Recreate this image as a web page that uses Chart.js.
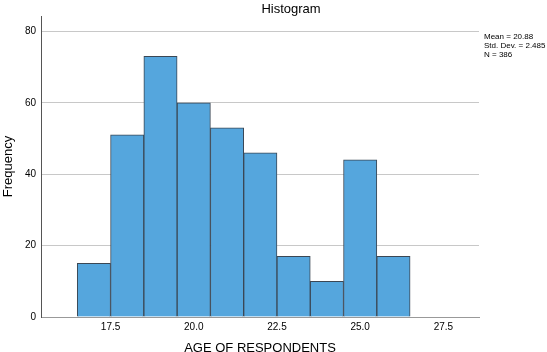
<!DOCTYPE html>
<html>
<head>
<meta charset="utf-8">
<script src="https://cdn.jsdelivr.net/npm/chart.js@4/dist/chart.umd.min.js"></script>
<style>
  html, body { margin: 0; padding: 0; background: #fff; }
  #wrap { width: 547px; height: 352px; position: relative; }
</style>
</head>
<body>
<div id="wrap"><canvas id="myChart"></canvas></div>
<script>
// age bins (centre of each 1-year bar) and counts
const ages = [17, 18, 19, 20, 21, 22, 23, 24, 25, 26];
const counts = [15, 51, 73, 60, 53, 46, 17, 10, 44, 17];
const xTicks = [17.5, 20.0, 22.5, 25.0, 27.5];
const yTicks = [0, 20, 40, 60, 80];
const stats = ['Mean = 20.88', 'Std. Dev. = 2.485', 'N = 386'];

const FONT = 'Liberation Sans, Arial, sans-serif';

// title + stats box drawn by hand, SPSS puts them in odd places
const extraText = {
  id: 'extraText',
  afterDraw(chart) {
    const c = chart.ctx;
    c.save();
    c.fillStyle = '#000';
    c.font = '13px ' + FONT;
    c.textAlign = 'center';
    c.textBaseline = 'middle';
    c.fillText('Histogram', 291, 9);
    c.font = '8px ' + FONT;
    c.textAlign = 'left';
    stats.forEach((s, i) => c.fillText(s, 484, 37 + i * 9));
    c.restore();
  }
};

const ctx = document.getElementById('myChart').getContext('2d');

const myChart = new Chart(ctx, {
  type: 'bar',
  data: {
    datasets: [{
      label: 'Frequency',
      data: ages.map((a, i) => ({ x: a, y: counts[i] })),
      backgroundColor: '#55a6dd',
      borderColor: '#3b4754',
      borderWidth: 1,
      barPercentage: 1,
      categoryPercentage: 1
    }]
  },
  options: {
    responsive: true,
    maintainAspectRatio: false,
    animation: false,
    layout: { padding: { top: 16, right: 68, left: 0, bottom: 0 } },
    plugins: {
      legend: { display: false },
      tooltip: { enabled: false }
    },
    scales: {
      x: {
        type: 'linear',
        offset: false,
        min: 15.41,
        max: 28.57,
        afterBuildTicks: s => { s.ticks = xTicks.map(v => ({ value: v })); },
        afterFit: s => { s.height = 35; },
        ticks: {
          callback: v => v.toFixed(1),
          color: '#000',
          font: { family: FONT, size: 10 },
          padding: 4,
          maxRotation: 0
        },
        grid: { display: false, drawTicks: false },
        border: { color: '#999', width: 1 },
        title: {
          display: true,
          text: 'AGE OF RESPONDENTS',
          color: '#000',
          font: { family: FONT, size: 13 },
          padding: { top: 0, bottom: -4 }
        }
      },
      y: {
        min: 0,
        max: 84.3,
        afterBuildTicks: s => { s.ticks = yTicks.map(v => ({ value: v })); },
        afterFit: s => { s.width = 41; },
        ticks: {
          color: '#000',
          font: { family: FONT, size: 10 },
          padding: 5
        },
        grid: { color: '#c8c8c8', drawTicks: false },
        border: { color: '#555', width: 1 },
        title: {
          display: true,
          text: 'Frequency',
          color: '#000',
          font: { family: FONT, size: 13 },
          padding: { top: 1, bottom: 0 }
        }
      }
    }
  },
  plugins: [extraText]
});
</script>
</body>
</html>
